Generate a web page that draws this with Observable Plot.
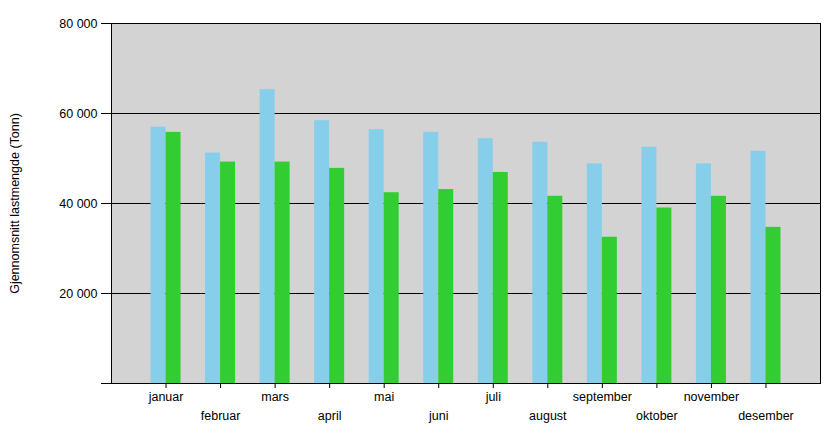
<!DOCTYPE html>
<html>
<head>
<meta charset="utf-8">
<script src="https://cdn.jsdelivr.net/npm/d3@7"></script>
<script src="https://cdn.jsdelivr.net/npm/@observablehq/plot@0.6"></script>
<style>
  html, body { margin: 0; padding: 0; background: #fff; }
  #chart { width: 829px; height: 443px; }
</style>
</head>
<body>
<div id="chart"></div>
<script>
const months = ["januar","februar","mars","april","mai","juni","juli","august","september","oktober","november","desember"];
const seriesA = [56960, 51200, 65300, 58400, 56400, 55800, 54400, 53600, 48800, 52500, 48800, 51600]; // light blue
const seriesB = [55800, 49200, 49200, 47800, 42400, 43100, 46900, 41600, 32500, 39000, 41600, 34700]; // green
const yTicks = [20000, 40000, 60000, 80000];
const yLabel = "Gjennomsnitt lastmengde (Tonn)";

const colorA = "#87CEEB";
const colorB = "#32CD32";
const barW = 0.275;

const data = months.map((m, i) => ({month: m, pos: i + 1, a: seriesA[i], b: seriesB[i]}));
const fmt = d => d3.format(",")(d).replace(/,/g, " ");
const rowTop = data.filter((d, i) => i % 2 === 0).map(d => d.pos);
const rowBottom = data.filter((d, i) => i % 2 === 1).map(d => d.pos);
const nameOf = p => months[p - 1];

const chart = Plot.plot({
  width: 829,
  height: 443,
  marginTop: 23,
  marginBottom: 60,
  marginLeft: 111,
  marginRight: 9,
  style: {fontFamily: "'Liberation Sans', Arial, sans-serif", fontSize: "12.5px", color: "#000", background: "#fff"},
  x: {domain: [0, 13], axis: null},
  y: {domain: [0, 80000], axis: null},
  marks: [
    Plot.frame({fill: "#D3D3D3", stroke: null}),
    Plot.gridY(yTicks.slice(0, 3), {stroke: "#000", strokeOpacity: 1, strokeWidth: 1}),
    Plot.rectY(data, {x1: d => d.pos - barW, x2: d => d.pos, y1: 0, y2: "a", fill: colorA}),
    Plot.rectY(data, {x1: d => d.pos, x2: d => d.pos + barW, y1: 0, y2: "b", fill: colorB}),
    Plot.frame({stroke: "#000", strokeWidth: 1}),
    Plot.axisY([0, ...yTicks], {tickSize: 10, tickPadding: 4, tickFormat: d => d === 0 ? "" : fmt(d), fontSize: 12.5,
      label: yLabel, labelAnchor: "center", labelArrow: "none", labelOffset: 101}),
    Plot.axisX(rowTop, {tickSize: 5, tickPadding: 4, tickFormat: nameOf, fontSize: 12.5, label: null}),
    Plot.axisX(rowBottom, {tickSize: 5, tickPadding: 23, tickFormat: nameOf, fontSize: 12.5, label: null})
  ]
});
document.getElementById("chart").append(chart);
</script>
</body>
</html>
